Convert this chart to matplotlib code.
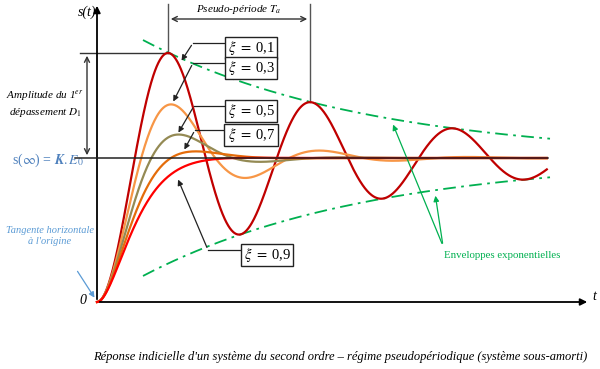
import numpy as np
import matplotlib
matplotlib.use("Agg")
import matplotlib.pyplot as plt

plt.rcParams['font.family'] = ['Liberation Serif', 'DejaVu Serif']
plt.rcParams['mathtext.fontset'] = 'stix'

# damping ratios shown on the chart, natural pulsation wn = 1, K.E0 = 1
xi_values = [0.1, 0.3, 0.5, 0.7, 0.9]
xi_labels = ['0,1', '0,3', '0,5', '0,7', '0,9']
colors = ['#C00000', '#F79646', '#948A54', '#E46C0A', '#FF0000']
t_end = 20.0
final_value = 1.0

# pixel -> data helpers (axes span the whole figure)
PX_T = 22.49   # px per time unit
PX_S = 144.0   # px per unit of s
X0, Y0 = 97, 302


def P(x, y):
    return ((x - X0) / PX_T, (Y0 - y) / PX_S)


def step(xi, t):
    wd = np.sqrt(1 - xi ** 2)
    return final_value * (1 - np.exp(-xi * t) / wd * np.sin(wd * t + np.arccos(xi)))


fig = plt.figure(figsize=(6, 3.69), dpi=100)
ax = fig.add_axes([0, 0, 1, 1])
ax.set_xlim(P(0, 0)[0], P(600, 0)[0])
ax.set_ylim(P(0, 369)[1], P(0, 0)[1])
ax.axis('off')

t = np.linspace(0, t_end, 800)
for xi, c in zip(xi_values, colors):
    ax.plot(t, step(xi, t), color=c, lw=1.6, zorder=3)

# envelopes of xi = 0.1
xi0 = xi_values[0]
wd0 = np.sqrt(1 - xi0 ** 2)
te = np.linspace(P(143, 0)[0], P(550, 0)[0], 200)
env = np.exp(-xi0 * te) / wd0
green = '#00B050'
ax.plot(te, final_value + env, color=green, lw=1.3, ls=(0, (7, 3, 1.5, 3)), zorder=2)
ax.plot(te, final_value - env, color=green, lw=1.3, ls=(0, (7, 3, 1.5, 3)), zorder=2)

# final value line
ax.plot([P(75, 0)[0], P(548, 0)[0]], [final_value, final_value], color='#222222', lw=1.1, zorder=4)

# axes with arrows
arr = dict(arrowstyle='-|>', color='black', lw=1.3, mutation_scale=10)
ax.annotate('', xy=P(97, 3), xytext=P(97, 302), arrowprops=arr)
ax.annotate('', xy=P(590, 302), xytext=P(97, 302), arrowprops=arr)
ax.text(*P(96, 12), 's(t)', style='italic', fontsize=10, ha='right', va='center')
ax.text(*P(594, 297), 't', style='italic', fontsize=10, ha='center', va='center')
ax.text(*P(86, 301), '0', style='italic', fontsize=10, ha='right', va='center')

# first overshoot
tp = np.pi / wd0
peak = step(xi0, np.array([tp]))[0]
ax.plot([P(80, 0)[0], tp], [peak, peak], color='#333333', lw=1.0, zorder=2)
ax.annotate('', xy=(P(87, 0)[0], peak), xytext=(P(87, 0)[0], final_value),
            arrowprops=dict(arrowstyle='<->', color='#333333', lw=1.0, mutation_scale=9))
ax.text(*P(45, 104), 'Amplitude du 1$^{er}$\ndépassement $D_1$', style='italic',
        fontsize=8, ha='center', va='center', linespacing=1.3)

# pseudo-period
tp2 = 3 * np.pi / wd0
top = P(0, 4)[1]
ax.plot([tp, tp], [peak, top], color='#555555', lw=1.0)
ax.plot([tp2, tp2], [step(xi0, np.array([tp2]))[0], top], color='#555555', lw=1.0)
ax.annotate('', xy=(tp, P(0, 19)[1]), xytext=(tp2, P(0, 19)[1]),
            arrowprops=dict(arrowstyle='<->', color='#333333', lw=1.0, mutation_scale=9))
ax.text((tp + tp2) / 2, P(0, 9)[1], 'Pseudo-période $T_a$', style='italic',
        fontsize=8, ha='center', va='center')

# final value label
ax.text(*P(48, 160), r's($\infty$) = $\boldsymbol{K.E_0}$', color='#4F81BD',
        fontsize=10, ha='center', va='center')

# tangent note
blue = '#5B9BD5'
ax.text(*P(50, 236), "Tangente horizontale\nà l'origine", style='italic', color=blue,
        fontsize=7.5, ha='center', va='center', linespacing=1.2)
ax.annotate('', xy=P(96, 300), xytext=P(76, 269),
            arrowprops=dict(arrowstyle='-|>', color=blue, lw=0.9, mutation_scale=8))

# damping ratio boxes and leaders
box_xy = [(251, 48), (251, 68), (251, 111), (251, 135), (267, 255)]
bends = [(193, 43), (193, 63), (194, 106), (195, 130), (208, 250)]
tips = [(180, 63), (172, 104), (177, 135), (183, 152), (177, 177)]
for lab, (bx, by), (kx, ky), (px, py) in zip(xi_labels, box_xy, bends, tips):
    ax.text(*P(bx, by), r'$\;\xi\;=\;$' + lab + r'$\;$', fontsize=10.5, ha='center', va='center',
            bbox=dict(boxstyle='square,pad=0.12', fc='white', ec='#222222', lw=1.0), zorder=6)
    left = bx - 27
    ax.plot([P(left, 0)[0], P(kx, 0)[0]], [P(0, ky)[1]] * 2, color='#222222', lw=0.9, zorder=5)
    ax.annotate('', xy=P(px, py), xytext=P(kx, ky),
                arrowprops=dict(arrowstyle='-|>', color='#222222', lw=0.9, mutation_scale=8),
                zorder=5)

# envelope note
ax.text(*P(502, 256), 'Enveloppes exponentielles', color=green, fontsize=7.8,
        ha='center', va='center')
for tip in [(392, 122), (435, 193)]:
    ax.annotate('', xy=P(*tip), xytext=P(443, 246),
                arrowprops=dict(arrowstyle='-|>', color=green, lw=0.9, mutation_scale=8))

ax.text(*P(340, 357), "Réponse indicielle d'un système du second ordre – régime pseudopériodique (système sous-amorti)",
        style='italic', fontsize=9, ha='center', va='center')

fig.savefig('out.png', dpi=100)
